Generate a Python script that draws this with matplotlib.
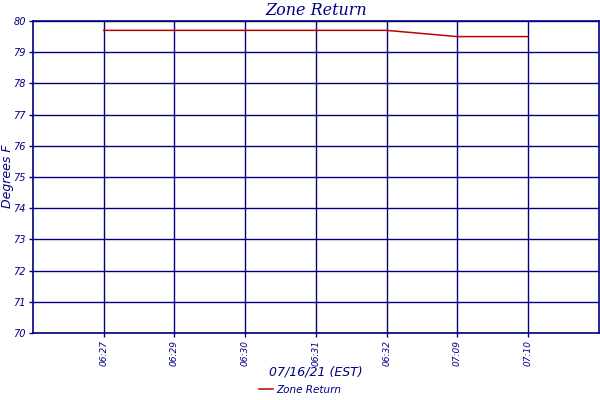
import matplotlib
matplotlib.use('Agg')
import matplotlib.pyplot as plt

# data
times = ['06:27', '06:29', '06:30', '06:31', '06:32', '07:09', '07:10']
zone_return = [79.7, 79.7, 79.7, 79.7, 79.7, 79.5, 79.5]
y_ticks = [70, 71, 72, 73, 74, 75, 76, 77, 78, 79, 80]

navy = '#000080'
red = '#c00000'

fig = plt.figure(figsize=(6, 4), dpi=100)
ax = fig.add_axes([0.055, 0.1675, 0.943, 0.78])

x = list(range(1, len(times) + 1))
ax.plot(x, zone_return, color=red, lw=1.1, label='Zone Return')

ax.set_xlim(0, len(times) + 1)
ax.set_ylim(70, 80)
ax.set_xticks(x)
ax.set_xticklabels(times, rotation=90, fontsize=6.5, style='italic', color=navy)
ax.set_yticks(y_ticks)
ax.set_yticklabels([str(v) for v in y_ticks], fontsize=7, style='italic', color=navy)
ax.tick_params(colors=navy, length=3, width=1, pad=2)

ax.grid(True, color=navy, lw=1)
for s in ax.spines.values():
    s.set_color(navy)
    s.set_linewidth(1.2)

ax.set_title('Zone Return', fontsize=11.5, style='italic', color=navy,
             family='DejaVu Serif', pad=4)
ax.set_xlabel('07/16/21 (EST)', fontsize=9, style='italic', color=navy, labelpad=0)
# y label sits close to the left edge
fig.text(0.013, 0.56, 'Degrees F', rotation=90, fontsize=9, style='italic',
         color=navy, ha='center', va='center')

leg = fig.legend(loc='lower center', bbox_to_anchor=(0.5, -0.01), frameon=False,
                 fontsize=7.5, handlelength=1.3, handletextpad=0.3)
for t in leg.get_texts():
    t.set_color(navy)
    t.set_style('italic')

fig.savefig('out.png', dpi=100)
